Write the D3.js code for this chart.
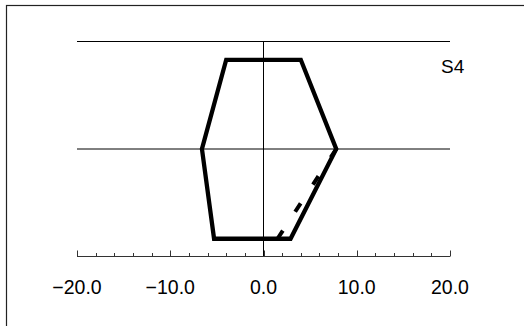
<!DOCTYPE html>
<html>
<head>
<meta charset="utf-8">
<script src="https://cdn.jsdelivr.net/npm/d3@7"></script>
<style>
  html, body { margin: 0; padding: 0; background: #fff; }
  svg { display: block; }
  text { font-family: "Liberation Sans", Arial, sans-serif; fill: #000; }
</style>
</head>
<body>
<svg id="chart" width="524" height="326"></svg>
<script>
// ---- data ----
const xMajorTicks = [-20, -10, 0, 10, 20];
const xMinorTicks = [-18, -16, -14, -12, -8, -6, -4, -2, 2, 4, 6, 8, 12, 14, 16, 18];
const xTickLabels = ["\u221220.0", "\u221210.0", "0.0", "10.0", "20.0"];
const levelLines = [1, 2];
const sectionX = [-4.0, 4.0, 7.8, 2.9, -5.3, -6.6];
const sectionY = [1.83, 1.83, 1.0, 0.165, 0.165, 1.0];
const dashedX = [7.8, 1.5];
const dashedY = [1.0, 0.165];
const sectionLabel = "S4";

// ---- drawing ----
const svg = d3.select("#chart");
const x = d3.scaleLinear().domain([-20, 20]).range([77, 450]);
const y = d3.scaleLinear().domain([0, 2]).range([256.5, 41.5]);

// frame
svg.append("rect")
  .attr("x", 6.5).attr("y", 5.5)
  .attr("width", 560).attr("height", 360)
  .attr("fill", "none").attr("stroke", "#222").attr("stroke-width", 1.2);

// level lines
svg.selectAll("line.level").data(levelLines).enter().append("line")
  .attr("class", "level")
  .attr("x1", x(-20)).attr("x2", x(20))
  .attr("y1", d => y(d)).attr("y2", d => y(d))
  .attr("stroke", "#000").attr("stroke-width", 1);

// vertical center line
svg.append("line")
  .attr("x1", x(0)).attr("x2", x(0))
  .attr("y1", y(2)).attr("y2", y(0))
  .attr("stroke", "#000").attr("stroke-width", 1);

// axis
const axisY = y(0);
svg.append("line")
  .attr("x1", x(-20)).attr("x2", x(20))
  .attr("y1", axisY).attr("y2", axisY)
  .attr("stroke", "#333").attr("stroke-width", 1);
svg.selectAll("line.major").data(xMajorTicks).enter().append("line")
  .attr("class", "major")
  .attr("x1", d => Math.round(x(d)) + 0.5).attr("x2", d => Math.round(x(d)) + 0.5)
  .attr("y1", axisY - 6).attr("y2", axisY)
  .attr("stroke", "#333").attr("stroke-width", 1);
svg.selectAll("line.minor").data(xMinorTicks).enter().append("line")
  .attr("class", "minor")
  .attr("x1", d => Math.round(x(d)) + 0.5).attr("x2", d => Math.round(x(d)) + 0.5)
  .attr("y1", axisY - 3.5).attr("y2", axisY)
  .attr("stroke", "#333").attr("stroke-width", 1);
svg.selectAll("text.tick").data(xMajorTicks).enter().append("text")
  .attr("class", "tick")
  .attr("x", d => x(d)).attr("y", 294)
  .attr("text-anchor", "middle")
  .attr("font-size", 19.5)
  .text((d, i) => xTickLabels[i]);

// dashed line (drawn first, beneath outline)
const dashedPts = dashedX.map((v, i) => [x(v), y(dashedY[i])]);
svg.append("path")
  .attr("d", d3.line()(dashedPts))
  .attr("fill", "none").attr("stroke", "#000").attr("stroke-width", 4)
  .attr("stroke-dasharray", "10,22.5");

// section outline
const pts = sectionX.map((v, i) => [x(v), y(sectionY[i])]);
svg.append("path")
  .attr("d", d3.line()(pts) + "Z")
  .attr("fill", "none").attr("stroke", "#000").attr("stroke-width", 4.3)
  .attr("stroke-linejoin", "miter");

// label
svg.append("text")
  .attr("x", 441).attr("y", 73)
  .attr("font-size", 19)
  .text(sectionLabel);
</script>
</body>
</html>
